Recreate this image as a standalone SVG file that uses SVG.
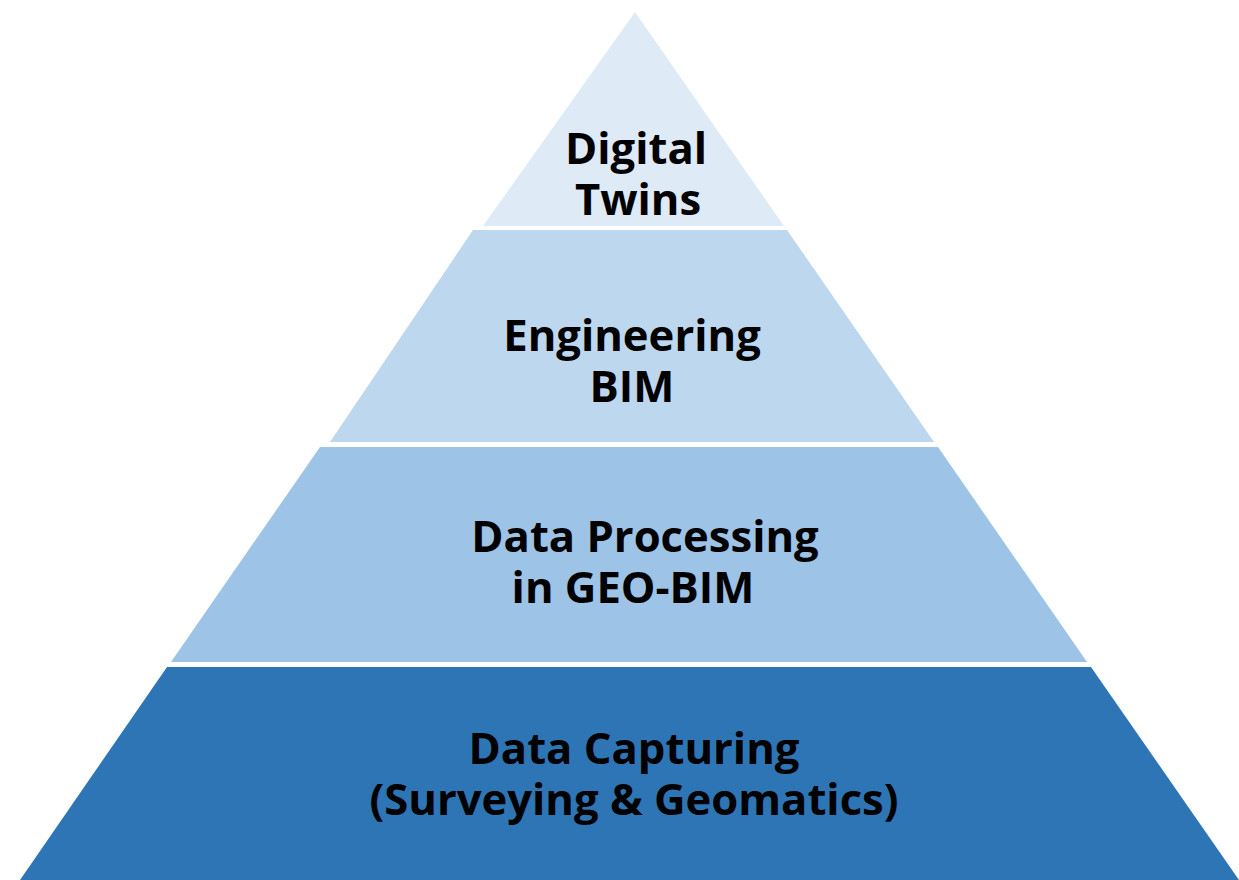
<svg xmlns="http://www.w3.org/2000/svg" width="1239" height="880" viewBox="0 0 1239 880">
<style>
text{font-family:"Open Sans","Liberation Sans",sans-serif;font-weight:bold;font-size:43.6px;fill:#000;text-anchor:middle}
</style>
<rect width="1239" height="880" fill="#fff"/>
<g id="layer-digital-twins">
<polygon points="635,12 784,226 483,226" fill="#DEEBF7"/>
<text x="636" y="164">Digital</text>
<text x="638" y="215">Twins</text>
</g>
<g id="layer-engineering-bim">
<polygon points="473,230 787,230 934,442 330,442" fill="#BDD7EE"/>
<text x="632" y="351">Engineering</text>
<text x="632" y="402">BIM</text>
</g>
<g id="layer-data-processing">
<polygon points="320,447 938,447 1087,662 171,662" fill="#9DC3E6"/>
<text x="645" y="552">Data Processing</text>
<text x="633" y="603">in GEO-BIM</text>
</g>
<g id="layer-data-capturing">
<polygon points="167,667 1091,667 1239,880 20,880" fill="#2E75B6"/>
<text x="634" y="764">Data Capturing</text>
<text x="634" y="815">(Surveying &amp; Geomatics)</text>
</g>
</svg>
